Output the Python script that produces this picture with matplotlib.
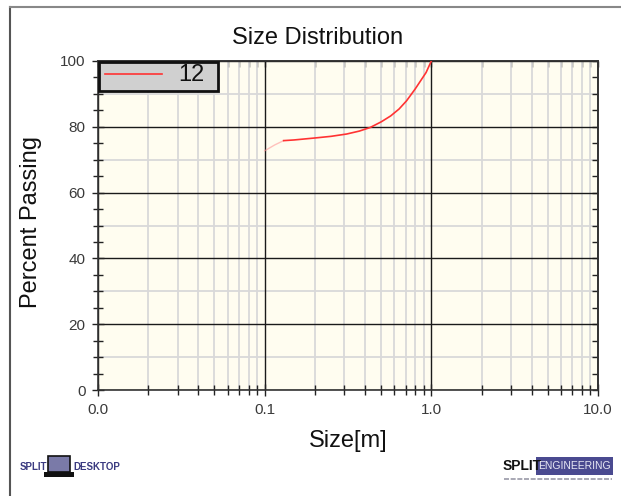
import matplotlib
matplotlib.use("Agg")
import matplotlib.pyplot as plt
from matplotlib.ticker import FixedLocator, MultipleLocator, FormatStrFormatter, LogLocator, NullFormatter
from matplotlib.patches import Rectangle
from matplotlib.lines import Line2D

plt.rcParams['font.family'] = ['Liberation Sans', 'DejaVu Sans']

# Data
size_faint = [0.1, 0.115, 0.13]
pass_faint = [72.7, 74.5, 75.8]
size_m = [0.13, 0.15, 0.2, 0.25, 0.31, 0.37, 0.43, 0.5, 0.57, 0.64, 0.71, 0.8, 0.86, 0.93, 1.0]
passing = [75.8, 76.0, 76.6, 77.1, 77.8, 78.7, 79.8, 81.5, 83.3, 85.4, 87.9, 91.5, 93.9, 96.5, 100.0]
series_label = "12"
x_ticks = [0.01, 0.1, 1.0, 10.0]
y_ticks = [0, 20, 40, 60, 80, 100]
y_light_grid = [10, 30, 50, 70, 90]

W, H = 621, 496
fig = plt.figure(figsize=(W/100, H/100), dpi=100)
fig.patch.set_facecolor('white')
ax = fig.add_axes([98/W, 1-390/H, 500/W, 329/H])
ax.set_facecolor('#fffdf0')

ax.set_xscale('log')
ax.set_xlim(0.01, 10)
ax.set_ylim(0, 100)
ax.xaxis.set_major_locator(FixedLocator(x_ticks))
ax.xaxis.set_major_formatter(FormatStrFormatter('%.1f'))
ax.xaxis.set_minor_locator(LogLocator(base=10, subs=range(2, 10)))
ax.xaxis.set_minor_formatter(NullFormatter())
ax.yaxis.set_major_locator(FixedLocator(y_ticks))
ax.yaxis.set_minor_locator(MultipleLocator(5))

ax.grid(which='minor', axis='x', color='#d9d9d9', lw=1.3, zorder=0)
for yv in y_light_grid:
    ax.axhline(yv, color='#d9d9d9', lw=1.3, zorder=0)
ax.grid(which='major', axis='both', color='#1a1a1a', lw=1.0, zorder=1)

ax.tick_params(which='major', direction='inout', length=8, width=1.0, color='#222222',
               labelsize=11, labelcolor='#3a3a3a', pad=5)
ax.tick_params(which='minor', direction='inout', length=7, width=1.0, color='#222222')

# top / right inward ticks
secx = ax.secondary_xaxis('top')
secx.xaxis.set_major_locator(FixedLocator(x_ticks))
secx.xaxis.set_minor_locator(LogLocator(base=10, subs=range(2, 10)))
secx.xaxis.set_major_formatter(NullFormatter())
secx.xaxis.set_minor_formatter(NullFormatter())
secx.tick_params(which='both', direction='in', length=4, width=1.0, color='#222222')
secy = ax.secondary_yaxis('right')
secy.yaxis.set_major_locator(FixedLocator(y_ticks))
secy.yaxis.set_minor_locator(MultipleLocator(5))
secy.yaxis.set_major_formatter(NullFormatter())
secy.tick_params(which='both', direction='in', length=4, width=1.0, color='#222222')
for a in (ax, secx, secy):
    for sp in a.spines.values():
        sp.set_color('#333333')
        sp.set_linewidth(1.2)

ax.plot(size_faint, pass_faint, color='#ff9999', lw=1.0, alpha=0.6, zorder=3)
ax.plot(size_m, passing, color='#ff3333', lw=1.2, zorder=3)

# legend box
ax.add_patch(Rectangle((0.002, 0.909), 0.238, 0.088, transform=ax.transAxes,
                       facecolor='#d0d0d0', edgecolor='#111111', lw=2, zorder=5, clip_on=False))
ax.add_line(Line2D([0.014, 0.128], [0.960, 0.960], transform=ax.transAxes,
                   color='#ff3333', lw=1.2, zorder=6))
ax.text(0.16, 0.958, series_label, transform=ax.transAxes, ha='left', va='center',
        fontsize=17, color='#111111', zorder=6)

fig.text(318/W, 1-44/H, 'Size Distribution', ha='center', va='baseline', fontsize=17, color='#111111')
fig.text(348/W, 1-441/H, 'Size[m]', ha='center', va='center', fontsize=17, color='#111111')
fig.text(31/W, 1-222/H, 'Percent Passing', ha='center', va='center', rotation=90, fontsize=17, color='#111111')

# outer frame
fig.add_artist(Line2D([9.5/W, 9.5/W], [0, 1-7/H], color='#555555', lw=1.5))
fig.add_artist(Line2D([9.5/W, 1], [1-7/H, 1-7/H], color='#888888', lw=1.5))

# logos
fig.text(20/W, 1-467/H, 'SPLIT', ha='left', va='center', fontsize=7, color='#3a3a80', fontweight='bold')
fig.add_artist(Rectangle((48/W, 1-472/H), 22/W, 16/H, facecolor='#7a7aa8', edgecolor='#111111', lw=1.2))
fig.add_artist(Rectangle((44/W, 1-477/H), 30/W, 5/H, facecolor='#111111', edgecolor='none'))
fig.text(73/W, 1-467/H, 'DESKTOP', ha='left', va='center', fontsize=7, color='#3a3a80', fontweight='bold')

fig.text(503/W, 1-466/H, 'SPLIT', ha='left', va='center', fontsize=10, color='#111111', fontweight='bold')
fig.add_artist(Rectangle((536/W, 1-475/H), 77/W, 18/H, facecolor='#4a4a90', edgecolor='none'))
fig.text(574.5/W, 1-466/H, 'ENGINEERING', ha='center', va='center', fontsize=7.5, color='#e8e8f4')
fig.add_artist(Line2D([504/W, 612/W], [1-479/H, 1-479/H], color='#9a9aa8', lw=1.2, ls=(0, (3, 1))))

fig.savefig('out.png', dpi=100)
